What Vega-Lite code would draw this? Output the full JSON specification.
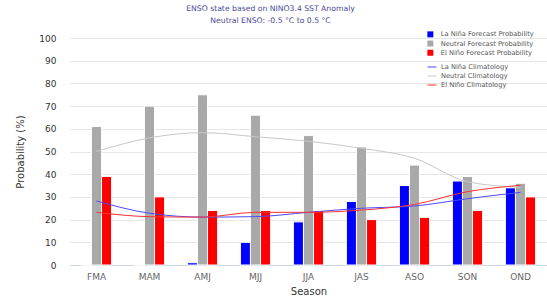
{
  "$schema": "https://vega.github.io/schema/vega-lite/v6.json",
  "width": 477,
  "height": 227,
  "autosize": {"type": "none"},
  "padding": {"left": 70, "top": 38, "right": 0, "bottom": 37},
  "background": "white",
  "config": {
    "font": "DejaVu Sans",
    "view": {"stroke": null}
  },
  "title": {
    "text": "ENSO state based on NINO3.4 SST Anomaly",
    "subtitle": "Neutral ENSO: -0.5 °C to 0.5 °C",
    "fontSize": 7.7,
    "fontWeight": "normal",
    "color": "#4a4a9a",
    "subtitleFontSize": 7.7,
    "subtitleColor": "#4a4a9a",
    "subtitlePadding": 5,
    "anchor": "middle",
    "frame": "group",
    "dx": -38,
    "offset": 6
  },
  "datasets": {
    "bars": [
      {"season": "FMA", "type": "La Niña Forecast Probability", "value": 0},
      {"season": "FMA", "type": "Neutral Forecast Probability", "value": 61},
      {"season": "FMA", "type": "El Niño Forecast Probability", "value": 39},
      {"season": "MAM", "type": "La Niña Forecast Probability", "value": 0},
      {"season": "MAM", "type": "Neutral Forecast Probability", "value": 70},
      {"season": "MAM", "type": "El Niño Forecast Probability", "value": 30},
      {"season": "AMJ", "type": "La Niña Forecast Probability", "value": 1},
      {"season": "AMJ", "type": "Neutral Forecast Probability", "value": 75},
      {"season": "AMJ", "type": "El Niño Forecast Probability", "value": 24},
      {"season": "MJJ", "type": "La Niña Forecast Probability", "value": 10},
      {"season": "MJJ", "type": "Neutral Forecast Probability", "value": 66},
      {"season": "MJJ", "type": "El Niño Forecast Probability", "value": 24},
      {"season": "JJA", "type": "La Niña Forecast Probability", "value": 19},
      {"season": "JJA", "type": "Neutral Forecast Probability", "value": 57},
      {"season": "JJA", "type": "El Niño Forecast Probability", "value": 24},
      {"season": "JAS", "type": "La Niña Forecast Probability", "value": 28},
      {"season": "JAS", "type": "Neutral Forecast Probability", "value": 52},
      {"season": "JAS", "type": "El Niño Forecast Probability", "value": 20},
      {"season": "ASO", "type": "La Niña Forecast Probability", "value": 35},
      {"season": "ASO", "type": "Neutral Forecast Probability", "value": 44},
      {"season": "ASO", "type": "El Niño Forecast Probability", "value": 21},
      {"season": "SON", "type": "La Niña Forecast Probability", "value": 37},
      {"season": "SON", "type": "Neutral Forecast Probability", "value": 39},
      {"season": "SON", "type": "El Niño Forecast Probability", "value": 24},
      {"season": "OND", "type": "La Niña Forecast Probability", "value": 34},
      {"season": "OND", "type": "Neutral Forecast Probability", "value": 36},
      {"season": "OND", "type": "El Niño Forecast Probability", "value": 30}
    ],
    "clim": [
      {"season": "FMA", "type": "La Niña Climatology", "value": 28.2},
      {"season": "MAM", "type": "La Niña Climatology", "value": 22.8},
      {"season": "AMJ", "type": "La Niña Climatology", "value": 21.1},
      {"season": "MJJ", "type": "La Niña Climatology", "value": 21.3},
      {"season": "JJA", "type": "La Niña Climatology", "value": 23.2},
      {"season": "JAS", "type": "La Niña Climatology", "value": 25},
      {"season": "ASO", "type": "La Niña Climatology", "value": 26},
      {"season": "SON", "type": "La Niña Climatology", "value": 29.2},
      {"season": "OND", "type": "La Niña Climatology", "value": 32},
      {"season": "FMA", "type": "Neutral Climatology", "value": 50},
      {"season": "MAM", "type": "Neutral Climatology", "value": 56},
      {"season": "AMJ", "type": "Neutral Climatology", "value": 58.3},
      {"season": "MJJ", "type": "Neutral Climatology", "value": 56.5},
      {"season": "JJA", "type": "Neutral Climatology", "value": 54.5},
      {"season": "JAS", "type": "Neutral Climatology", "value": 51.4},
      {"season": "ASO", "type": "Neutral Climatology", "value": 47},
      {"season": "SON", "type": "Neutral Climatology", "value": 36.7},
      {"season": "OND", "type": "Neutral Climatology", "value": 34.2},
      {"season": "FMA", "type": "El Niño Climatology", "value": 23.2},
      {"season": "MAM", "type": "El Niño Climatology", "value": 21.3},
      {"season": "AMJ", "type": "El Niño Climatology", "value": 21.1},
      {"season": "MJJ", "type": "El Niño Climatology", "value": 23.2},
      {"season": "JJA", "type": "El Niño Climatology", "value": 23.2},
      {"season": "JAS", "type": "El Niño Climatology", "value": 24.2},
      {"season": "ASO", "type": "El Niño Climatology", "value": 26.7},
      {"season": "SON", "type": "El Niño Climatology", "value": 32.3},
      {"season": "OND", "type": "El Niño Climatology", "value": 35.1}
    ]
  },
  "encoding": {
    "x": {
      "field": "season",
      "type": "nominal",
      "sort": ["FMA", "MAM", "AMJ", "MJJ", "JJA", "JAS", "ASO", "SON", "OND"],
      "scale": {"paddingInner": 0.43, "paddingOuter": 0.215},
      "axis": {
        "title": "Season",
        "titleFontSize": 10,
        "titleFontWeight": "normal",
        "titleColor": "#333333",
        "titlePadding": 5,
        "labelAngle": 0,
        "labelFontSize": 9,
        "labelColor": "#666666",
        "labelPadding": 7,
        "ticks": false,
        "domainColor": "#ccd6eb",
        "domainWidth": 1
      }
    },
    "y": {
      "field": "value",
      "type": "quantitative",
      "scale": {"domain": [0, 100]},
      "axis": {
        "title": "Probability (%)",
        "titleFontSize": 10,
        "titleFontWeight": "normal",
        "titleColor": "#333333",
        "titlePadding": 13,
        "values": [0, 10, 20, 30, 40, 50, 60, 70, 80, 90, 100],
        "labelOverlap": false,
        "labelFontSize": 9,
        "labelColor": "#333333",
        "labelPadding": 14,
        "ticks": false,
        "domain": false,
        "grid": true,
        "gridColor": "#e6e6e6"
      }
    }
  },
  "layer": [
    {
      "data": {"name": "bars"},
      "mark": {"type": "bar", "stroke": "white", "strokeWidth": 1},
      "encoding": {
        "xOffset": {
          "field": "type",
          "type": "nominal",
          "sort": ["La Niña Forecast Probability", "Neutral Forecast Probability", "El Niño Forecast Probability"]
        },
        "fill": {
          "field": "type",
          "type": "nominal",
          "sort": ["La Niña Forecast Probability", "Neutral Forecast Probability", "El Niño Forecast Probability"],
          "scale": {
            "domain": ["La Niña Forecast Probability", "Neutral Forecast Probability", "El Niño Forecast Probability"],
            "range": ["#0000ff", "#a9a9a9", "#ff0000"]
          },
          "legend": {
            "title": null,
            "orient": "none",
            "legendX": 357,
            "legendY": -7,
            "symbolType": "square",
            "symbolSize": 36,
            "symbolStrokeWidth": 0,
            "labelFontSize": 6.7,
            "labelOffset": 7,
            "labelColor": "#555555",
            "rowPadding": 1.2
          }
        }
      }
    },
    {
      "data": {"name": "clim"},
      "mark": {"type": "line", "interpolate": "monotone", "strokeWidth": 1},
      "encoding": {
        "stroke": {
          "field": "type",
          "type": "nominal",
          "scale": {
            "domain": ["La Niña Climatology", "Neutral Climatology", "El Niño Climatology"],
            "range": ["#4a4aff", "#c8c8c8", "#ff3030"]
          },
          "legend": {
            "title": null,
            "orient": "none",
            "legendX": 357,
            "legendY": 24,
            "symbolType": "stroke",
            "symbolSize": 80,
            "symbolStrokeWidth": 1,
            "labelFontSize": 6.7,
            "labelOffset": 4,
            "labelColor": "#555555",
            "rowPadding": -1
          }
        }
      }
    }
  ]
}
